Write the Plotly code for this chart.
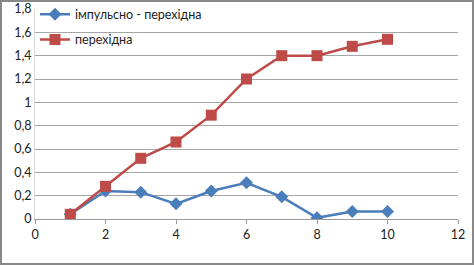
import plotly.graph_objects as go

x_vals = [1, 2, 3, 4, 5, 6, 7, 8, 9, 10]
impulse = [0.04, 0.24, 0.23, 0.13, 0.24, 0.31, 0.19, 0.01, 0.065, 0.065]
transient = [0.04, 0.28, 0.52, 0.66, 0.89, 1.2, 1.40, 1.40, 1.48, 1.54]
names = ["імпульсно - перехідна", "перехідна"]

fig = go.Figure()
fig.add_trace(go.Scatter(x=x_vals, y=impulse, name=names[0], mode="lines+markers",
                         legendgroup="a",
                         line=dict(color="#4A7EBB", width=2.5),
                         marker=dict(symbol="diamond", size=10, color="#4A7EBB")))
fig.add_trace(go.Scatter(x=x_vals, y=transient, name=names[1], mode="lines+markers",
                         legendgroup="b",
                         line=dict(color="#BE4B48", width=2.5),
                         marker=dict(symbol="square", size=11, color="#BE4B48")))

L, R, T, B = 35, 16, 9, 46
W, H = 474, 265
pw, ph = W - L - R, H - T - B

fig.update_layout(
    width=W, height=H, margin=dict(l=L, r=R, t=T, b=B, autoexpand=False),
    paper_bgcolor="white", plot_bgcolor="white",
    separators=", ",
    font=dict(family="Lato, Noto Sans, sans-serif", size=12, color="#222"),
    showlegend=True,
    legend=dict(x=0.0, y=1.045, xanchor="left", yanchor="top",
                bgcolor="rgba(255,255,255,0)", font=dict(size=12.5),
                itemwidth=30, tracegroupgap=6),
    xaxis=dict(range=[0, 12], dtick=2, tick0=0, showgrid=False,
               showline=True, linecolor="#999", linewidth=1,
               ticks="outside", ticklen=4, tickcolor="#999",
               zeroline=False, tickfont=dict(size=12.5)),
    yaxis=dict(range=[0, 1.8], dtick=0.2, tick0=0, showgrid=True,
               gridcolor="#A6A6A6", gridwidth=1,
               showline=True, linecolor="#D8D8D8", linewidth=1,
               zeroline=False, ticks="", tickfont=dict(size=12.5)),
    shapes=[dict(type="rect", xref="paper", yref="paper",
                 x0=(1 - L) / pw, x1=(W - 1 - L) / pw,
                 y0=(H - B - (H - 1)) / ph, y1=(H - B - 1) / ph,
                 line=dict(color="#888", width=2), fillcolor="rgba(0,0,0,0)")],
)

fig.write_html("out.html")
